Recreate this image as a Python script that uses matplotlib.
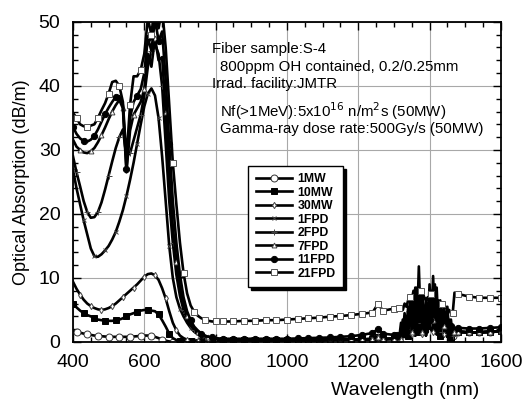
"""
Optical absorption spectra of fiber S-4 irradiated at JMTR
(reactor power steps 1MW..50MW, then fluence in FPD).
"""
import numpy as np
import matplotlib
matplotlib.use("Agg")
import matplotlib.pyplot as plt
from matplotlib.ticker import MultipleLocator

plt.rcParams['font.family'] = ['Liberation Sans', 'DejaVu Sans']

# ---- data -------------------------------------------------------------
# visible / near-IR band, 400-800 nm every 10 nm
wl = np.arange(400, 801, 10)
s1mw = [1.8, 1.6, 1.45, 1.3, 1.2, 1.1, 1.0, 0.95, 0.9, 0.85,
        0.8, 0.8, 0.8, 0.8, 0.8, 0.8, 0.8, 0.85, 0.9, 0.95,
        1.0, 1.0, 0.9, 0.8, 0.6, 0.35, 0.2, 0.08, 0.05, 0.05,
        0.05, 0.05, 0.05, 0.05, 0.05, 0.05, 0.05, 0.05, 0.05, 0.05, 0.05]
s10mw = [6.0, 5.4, 4.9, 4.5, 4.2, 4.0, 3.7, 3.5, 3.4, 3.3,
         3.3, 3.3, 3.4, 3.5, 3.7, 4.0, 4.3, 4.5, 4.7, 4.9,
         5.0, 5.0, 4.9, 4.8, 4.3, 3.4, 2.4, 1.3, 0.6, 0.3,
         0.15, 0.1, 0.1, 0.1, 0.1, 0.1, 0.1, 0.1, 0.1, 0.1, 0.1]
s30mw = [9.4, 8.3, 7.4, 6.6, 6.0, 5.6, 5.3, 5.1, 5.0, 5.1,
         5.3, 5.6, 6.0, 6.5, 7.0, 7.5, 8.0, 8.5, 9.0, 9.6,
         10.2, 10.6, 10.7, 10.4, 9.7, 8.4, 6.8, 4.8, 3.0, 1.8,
         1.0, 0.6, 0.35, 0.25, 0.2, 0.2, 0.2, 0.2, 0.2, 0.2, 0.2]
s1fpd = [26.9, 24.0, 21.5, 19.0, 16.8, 14.6, 13.4, 13.3, 13.7, 14.3,
         15.0, 16.0, 17.2, 18.8, 20.6, 22.8, 25.3, 28.0, 31.0, 34.0,
         36.8, 38.8, 39.6, 38.5, 35.0, 29.0, 22.0, 15.0, 10.0, 7.0,
         5.2, 4.0, 3.0, 2.2, 1.6, 1.2, 0.9, 0.7, 0.5, 0.4, 0.3]
s2fpd = [29.0, 26.5, 24.3, 22.0, 20.3, 19.4, 19.5, 20.3, 21.8, 23.8,
         26.0, 28.2, 30.3, 32.0, 33.2, 29.0, 29.5, 31.5, 33.5, 35.5,
         38.5, 43.0, 45.5, 46.5, 45.0, 40.0, 31.0, 22.0, 15.5, 10.5,
         7.2, 5.0, 3.6, 2.6, 1.9, 1.4, 1.1, 0.8, 0.6, 0.5, 0.4]
s7fpd = [31.6, 30.5, 30.0, 29.6, 29.5, 29.8, 30.3, 31.2, 32.3, 33.5,
         34.8, 36.0, 37.0, 37.8, 36.5, 26.5, 33.0, 35.5, 36.5, 37.5,
         39.5, 45.0, 43.0, 47.5, 44.0, 44.5, 36.0, 26.0, 18.0, 12.5,
         8.5, 5.8, 4.0, 2.9, 2.1, 1.6, 1.2, 0.9, 0.7, 0.6, 0.5]
s11fpd = [33.6, 32.5, 31.8, 31.4, 31.3, 31.6, 32.2, 33.2, 34.4, 35.6,
          36.6, 37.5, 38.3, 38.4, 37.0, 27.0, 35.0, 37.5, 38.5, 39.5,
          42.0, 47.5, 45.5, 50.5, 47.0, 48.5, 41.0, 31.0, 22.0, 15.5,
          10.5, 7.0, 4.8, 3.4, 2.4, 1.8, 1.3, 1.0, 0.8, 0.7, 0.6]
s21fpd = [35.8, 35.0, 34.0, 33.7, 33.6, 33.8, 34.0, 35.0, 36.2, 37.3,
          38.8, 40.6, 40.8, 40.0, 37.5, 28.5, 37.0, 41.5, 41.5, 42.5,
          45.0, 50.5, 48.0, 53.0, 49.0, 52.0, 46.0, 37.0, 28.0, 21.5,
          15.5, 10.8, 7.6, 5.7, 4.7, 4.1, 3.7, 3.5, 3.3, 3.2, 3.2]

# flat region 820-1300 nm
tail_wl = [820, 850, 880, 910, 940, 970, 1000, 1030, 1060, 1090,
           1120, 1150, 1180, 1210, 1240, 1255, 1270, 1300]
tail_low = [0.3, 0.3, 0.3, 0.3, 0.3, 0.3, 0.3, 0.3, 0.3, 0.3,
            0.35, 0.35, 0.4, 0.4, 0.45, 0.8, 0.45, 0.5]
tail_11fpd = [0.5, 0.5, 0.5, 0.5, 0.5, 0.5, 0.5, 0.55, 0.6, 0.65,
              0.7, 0.8, 0.9, 1.1, 1.4, 2.0, 1.3, 1.1]
tail_21fpd = [3.2, 3.2, 3.3, 3.3, 3.4, 3.4, 3.5, 3.6, 3.7, 3.8,
              3.95, 4.05, 4.2, 4.4, 4.6, 5.9, 4.9, 5.2]

# OH overtone band 1310-1470 nm every 5 nm (noisy)
oh_wl = np.arange(1310, 1471, 5)
oh_low = [0.5, 0.5, 0.6, 1.5, 0.8, 2.5, 1.0, 3.0, 1.2, 2.8, 1.0, 3.5,
          1.5, 3.0, 1.2, 2.5, 1.0, 3.0, 2.5, 3.5, 1.5, 3.0, 1.2, 2.5,
          1.0, 2.0, 1.2, 2.0, 0.8, 1.5, 0.6, 1.0, 1.5]
oh_1fpd = [0.5, 0.6, 3.0, 0.8, 3.5, 1.2, 4.5, 1.5, 5.0, 2.0, 6.0, 1.8,
           5.5, 2.0, 6.5, 1.5, 5.0, 2.0, 4.5, 1.8, 6.0, 2.0, 5.0, 1.5,
           4.5, 1.2, 4.0, 1.5, 3.5, 1.0, 2.5, 0.8, 1.5]
oh_2fpd = [0.5, 0.6, 0.8, 1.0, 4.5, 1.5, 5.5, 2.0, 7.0, 3.0, 8.5, 2.5,
           11.8, 3.0, 7.5, 2.0, 6.8, 1.5, 9.0, 3.0, 10.3, 2.5, 8.5, 2.0,
           6.5, 1.5, 6.0, 2.0, 5.5, 1.5, 3.5, 1.0, 1.5]
oh_7fpd = [0.5, 0.6, 0.4, 2.5, 0.8, 4.0, 1.0, 6.5, 1.5, 5.5, 2.0, 7.0,
           3.5, 8.0, 1.5, 5.0, 2.0, 6.0, 2.5, 8.0, 3.5, 9.0, 3.0, 6.0,
           2.0, 5.0, 2.5, 4.5, 1.5, 3.5, 1.0, 2.5, 1.6]
oh_11fpd = [1.1, 1.2, 1.4, 3.5, 2.0, 3.0, 3.5, 4.0, 3.5, 4.5, 3.0, 5.0,
            4.0, 4.5, 3.5, 4.0, 3.0, 4.5, 3.5, 5.0, 4.0, 4.5, 3.5, 4.0,
            3.0, 3.5, 3.0, 3.5, 2.5, 3.0, 2.5, 2.0, 2.2]
oh_21fpd = [5.2, 5.3, 5.3, 5.0, 6.0, 5.5, 6.5, 7.0, 6.5, 8.0, 7.0, 8.5,
            7.5, 8.0, 7.8, 7.0, 6.5, 7.0, 6.0, 7.5, 6.5, 7.0, 6.0, 6.5,
            5.5, 6.0, 5.8, 5.5, 5.0, 5.0, 4.5, 4.5, 7.7]

# beyond the OH band
post_wl = [1480, 1510, 1540, 1570, 1600]
post_low = [1.6, 1.5, 1.5, 1.6, 1.7]
post_11fpd = [2.2, 2.1, 2.1, 2.2, 2.3]
post_21fpd = [7.5, 7.1, 6.9, 6.9, 6.9]

labels = ['1MW', '10MW', '30MW', '1FPD', '2FPD', '7FPD', '11FPD', '21FPD']

x_all = np.concatenate([wl, tail_wl, oh_wl, post_wl])

series = [
    (s1mw, tail_low, oh_low, post_low),
    (s10mw, tail_low, oh_low, post_low),
    (s30mw, tail_low, oh_low, post_low),
    (s1fpd, tail_low, oh_1fpd, post_low),
    (s2fpd, tail_low, oh_2fpd, post_low),
    (s7fpd, tail_low, oh_7fpd, post_low),
    (s11fpd, tail_11fpd, oh_11fpd, post_11fpd),
    (s21fpd, tail_21fpd, oh_21fpd, post_21fpd),
]

# marker style per series: (marker, facecolor, edgecolor, size)
styles = [('o', 'white', '#333333', 5), ('s', 'black', 'black', 4.5),
          ('d', 'white', '#444444', 3.2), ('x', 'black', '#444444', 3.5),
          ('+', 'black', '#444444', 4), ('^', 'white', '#444444', 3.5),
          ('o', 'black', 'black', 4.5), ('s', 'white', '#555555', 4.5)]
shifts = [1, 0, 2, 0, 1, 2, 0, 1]


def marker_index(shift):
    """every 30 nm in each segment"""
    n1, n2, n3 = len(wl), len(tail_wl), len(oh_wl)
    idx = list(range(shift, n1, 3))
    idx += list(range(n1, n1 + n2))
    idx += list(range(n1 + n2 + shift, n1 + n2 + n3, 6))
    idx += list(range(n1 + n2 + n3, len(x_all)))
    return idx


# ---- figure -----------------------------------------------------------
fig = plt.figure(figsize=(5.25, 4.13), dpi=100)
ax = fig.add_axes([0.139, 0.172, 0.815, 0.775])

for (vis, tail, oh, post), lab, (mk, fc, ec, ms), sh in zip(series, labels, styles, shifts):
    y = np.concatenate([vis, tail, oh, post])
    ax.plot(x_all, y, color='black', lw=1.9, marker=mk,
            markevery=marker_index(sh), markersize=ms,
            markerfacecolor=fc, markeredgecolor=ec,
            markeredgewidth=0.7, label=lab)

ax.set_xlim(400, 1600)
ax.set_ylim(0, 50)
ax.xaxis.set_major_locator(MultipleLocator(200))
ax.xaxis.set_minor_locator(MultipleLocator(50))
ax.yaxis.set_major_locator(MultipleLocator(10))
ax.yaxis.set_minor_locator(MultipleLocator(2))
ax.tick_params(which='both', direction='in', top=True, right=True, width=1)
ax.tick_params(which='major', length=6, labelsize=14, pad=9)
ax.tick_params(which='minor', length=3.5)
ax.grid(True, which='major', color='#a8a8a8', lw=0.8)
for sp in ax.spines.values():
    sp.set_linewidth(1.3)

ax.set_ylabel('Optical Absorption (dB/m)', fontsize=13, labelpad=6)
ax.set_xlabel('Wavelength (nm)', fontsize=14)
ax.xaxis.set_label_coords(0.776, -0.125)

txt = dict(fontsize=10.8, va='center', ha='left')
ax.text(790, 45.7, 'Fiber sample:S-4', **txt)
ax.text(812, 43.0, '800ppm OH contained, 0.2/0.25mm', **txt)
ax.text(790, 40.3, 'Irrad. facility:JMTR', **txt)
ax.text(812, 36.1, r'Nf(>1MeV):5x10$^{16}$ n/m$^2$s (50MW)', **txt)
ax.text(812, 33.3, 'Gamma-ray dose rate:500Gy/s (50MW)', **txt)

leg = ax.legend(loc='upper left', bbox_to_anchor=(0.41, 0.55),
                prop={'family': ['Liberation Sans', 'DejaVu Sans'],
                      'weight': 'bold', 'size': 8.8},
                frameon=True, fancybox=False,
                shadow={'color': 'black', 'alpha': 1.0},
                edgecolor='black', handlelength=3.0, labelspacing=0.12,
                borderpad=0.6, handletextpad=0.4, borderaxespad=0)
leg.get_frame().set_linewidth(1.0)

fig.savefig('out.png', dpi=100)
